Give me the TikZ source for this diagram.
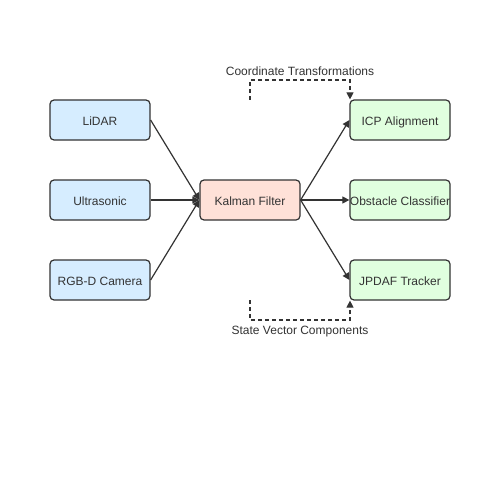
\documentclass[tikz,border=0pt]{standalone}
\usepackage{fontspec}
\setmainfont{Liberation Sans}
\usetikzlibrary{arrows.meta}
\definecolor{edge}{HTML}{333333}
\definecolor{bluef}{HTML}{D6EDFF}
\definecolor{redf}{HTML}{FFE1D8}
\definecolor{greenf}{HTML}{E0FFDF}
\begin{document}
\begin{tikzpicture}[x=1pt,y=-1pt,
  box/.style={draw=edge,line width=1.2pt,rounded corners=4pt,minimum width=100pt,minimum height=40pt,inner sep=0pt,text height=11.5pt,text depth=0pt,font=\fontsize{12}{14}\selectfont,text=edge},
  sensor/.style={box,fill=bluef},
  fuse/.style={box,fill=redf},
  outbox/.style={box,fill=greenf},
  conn/.style={draw=edge,line width=1.2pt,-{Triangle[length=7pt,width=7pt]}},
  dconn/.style={draw=edge,line width=1.2pt,dashed,dash pattern=on 4pt off 3pt,-{Triangle[length=7pt,width=7pt]}},
  lab/.style={font=\fontsize{12}{14}\selectfont,text=edge,inner sep=0pt}]
\useasboundingbox (0,0) rectangle (500,500);
\fill[white] (0,0) rectangle (500,500);
\node[sensor] (lidar) at (100,120) {LiDAR};
\node[sensor] (ultra) at (100,200) {Ultrasonic};
\node[sensor] (rgbd) at (100,280) {RGB-D Camera};
\node[fuse] (kf) at (250,200) {Kalman Filter};
\node[outbox] (icp) at (400,120) {ICP Alignment};
\node[outbox] (obs) at (400,200) {Obstacle Classifier};
\node[outbox] (jp) at (400,280) {JPDAF Tracker};
\draw[conn] (lidar.east) -- (kf.west);
\draw[conn] (ultra.east) -- (kf.west);
\draw[conn] (rgbd.east) -- (kf.west);
\draw[conn] (kf.east) -- (icp.west);
\draw[conn] (kf.east) -- (obs.west);
\draw[conn] (kf.east) -- (jp.west);
\coordinate (ts) at (250,100);
\coordinate (bs) at (250,300);
\draw[dconn] (ts) -- (250,80) -- (350,80) -- (icp.north west -| 350,100);
\draw[dconn] (bs) -- (250,320) -- (350,320) -- (jp.south west -| 350,300);
\node[lab] (tl) at (300,71) {Coordinate Transformations};
\node[lab] (bl) at (300,331.5) {State Vector Components};
\end{tikzpicture}
\end{document}
